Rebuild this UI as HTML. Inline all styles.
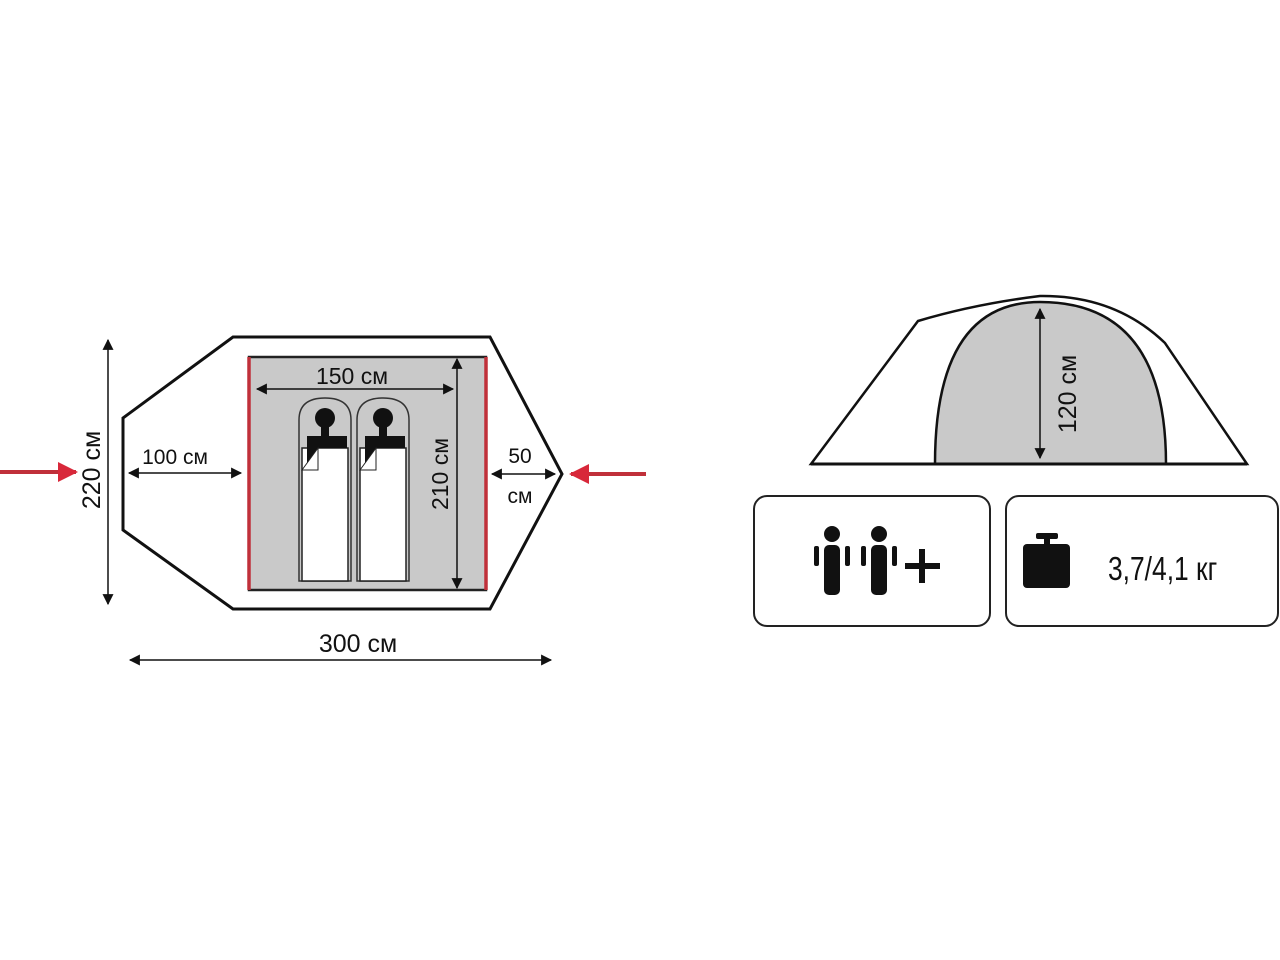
<!DOCTYPE html>
<html><head><meta charset="utf-8"><style>
html,body{margin:0;padding:0;background:#fff;}
svg{display:block;}
text{font-family:"Liberation Sans",sans-serif;fill:#111;}
</style></head><body>
<svg width="1280" height="960" viewBox="0 0 1280 960" xmlns="http://www.w3.org/2000/svg">
<defs>
<marker id="ah" viewBox="0 0 10 10" refX="9" refY="5" markerWidth="12" markerHeight="11" orient="auto-start-reverse" markerUnits="userSpaceOnUse">
<path d="M0,0 L10,5 L0,10 z" fill="#111"/></marker>
<marker id="ra" viewBox="0 0 10 10" refX="9" refY="5" markerWidth="24" markerHeight="20" orient="auto" markerUnits="userSpaceOnUse">
<path d="M0,0 L10,5 L0,10 z" fill="#d8283a"/></marker>
</defs>
<polygon points="233,337 490,337 562,474 490,609 233,609 123,530 123,418" fill="#fff" stroke="#111" stroke-width="3"/>
<rect x="249" y="357" width="237" height="233" fill="#c9c9c9" stroke="#222" stroke-width="2.5"/>
<line x1="249" y1="357" x2="249" y2="590" stroke="#c0303a" stroke-width="3.5"/>
<line x1="486" y1="357" x2="486" y2="590" stroke="#c0303a" stroke-width="3.5"/>
<g>
<path d="M299,581 V420 Q299,398 325,398 Q351,398 351,420 V581 Z" fill="#c9c9c9" stroke="#333" stroke-width="1.5"/>
<rect x="302" y="448" width="46" height="133" fill="#fff" stroke="#222" stroke-width="1.5"/>
<circle cx="325" cy="418" r="10" fill="#111"/>
<path d="M321,425 H329 V436 H347 V448 H319 L307,465 V436 H321 Z" fill="#111"/>
<path d="M302,470 L318,448 V470 Z" fill="#fff" stroke="#222" stroke-width="1"/>
</g>
<g transform="translate(58,0)">
<path d="M299,581 V420 Q299,398 325,398 Q351,398 351,420 V581 Z" fill="#c9c9c9" stroke="#333" stroke-width="1.5"/>
<rect x="302" y="448" width="46" height="133" fill="#fff" stroke="#222" stroke-width="1.5"/>
<circle cx="325" cy="418" r="10" fill="#111"/>
<path d="M321,425 H329 V436 H347 V448 H319 L307,465 V436 H321 Z" fill="#111"/>
<path d="M302,470 L318,448 V470 Z" fill="#fff" stroke="#222" stroke-width="1"/>
</g>
<line x1="257" y1="389" x2="453" y2="389" stroke="#111" stroke-width="1.5" marker-start="url(#ah)" marker-end="url(#ah)"/>
<text x="352" y="384" font-size="23" text-anchor="middle">150 см</text>
<line x1="457" y1="359" x2="457" y2="588" stroke="#111" stroke-width="1.5" marker-start="url(#ah)" marker-end="url(#ah)"/>
<text transform="translate(448,474) rotate(-90)" font-size="23" text-anchor="middle">210 см</text>
<line x1="129" y1="473" x2="241" y2="473" stroke="#111" stroke-width="1.5" marker-start="url(#ah)" marker-end="url(#ah)"/>
<text x="175" y="464" font-size="21" text-anchor="middle">100 см</text>
<line x1="492" y1="474" x2="555" y2="474" stroke="#111" stroke-width="1.5" marker-start="url(#ah)" marker-end="url(#ah)"/>
<text x="520" y="463" font-size="21" text-anchor="middle">50</text>
<text x="520" y="503" font-size="21" text-anchor="middle">см</text>
<line x1="108" y1="340" x2="108" y2="604" stroke="#111" stroke-width="1.5" marker-start="url(#ah)" marker-end="url(#ah)"/>
<text transform="translate(100,470) rotate(-90)" font-size="25" text-anchor="middle">220 см</text>
<line x1="130" y1="660" x2="551" y2="660" stroke="#111" stroke-width="1.5" marker-start="url(#ah)" marker-end="url(#ah)"/>
<text x="358" y="652" font-size="25" text-anchor="middle">300 см</text>
<line x1="0" y1="472" x2="76" y2="472" stroke="#c0303a" stroke-width="4" marker-end="url(#ra)"/>
<line x1="646" y1="474" x2="571" y2="474" stroke="#c0303a" stroke-width="4" marker-end="url(#ra)"/>
<path d="M811,464 L918,321 Q975,304 1040,296 Q1115,295 1165,343 L1247,464 Z" fill="#fff" stroke="#111" stroke-width="2.5"/>
<path d="M935,464 Q935,302 1040,302 Q1166,302 1166,464 Z" fill="#c9c9c9" stroke="#111" stroke-width="2.5"/>
<line x1="811" y1="464" x2="1247" y2="464" stroke="#111" stroke-width="3"/>
<line x1="1040" y1="309" x2="1040" y2="458" stroke="#111" stroke-width="1.5" marker-start="url(#ah)" marker-end="url(#ah)"/>
<text transform="translate(1076,394) rotate(-90)" font-size="25" text-anchor="middle">120 см</text>
<rect x="754" y="496" width="236" height="130" rx="13" fill="#fff" stroke="#222" stroke-width="2"/>
<rect x="1006" y="496" width="272" height="130" rx="13" fill="#fff" stroke="#222" stroke-width="2"/>
<g fill="#111">
<circle cx="832" cy="534" r="8"/>
<rect x="824" y="545" width="16" height="50" rx="5"/>
<rect x="814" y="546" width="5" height="20" rx="2"/>
<rect x="845" y="546" width="5" height="20" rx="2"/>
<circle cx="879" cy="534" r="8"/>
<rect x="871" y="545" width="16" height="50" rx="5"/>
<rect x="861" y="546" width="5" height="20" rx="2"/>
<rect x="892" y="546" width="5" height="20" rx="2"/>
<rect x="905" y="563" width="35" height="6"/>
<rect x="919" y="549" width="6" height="34"/>
<rect x="1036" y="533" width="22" height="6" rx="2"/>
<rect x="1044" y="537" width="6" height="8"/>
<rect x="1023" y="544" width="47" height="44" rx="4"/>
</g>
<text x="1108" y="580" font-size="33" transform="translate(1108,0) scale(0.8,1) translate(-1108,0)">3,7/4,1 кг</text>
</svg>
</body></html>
